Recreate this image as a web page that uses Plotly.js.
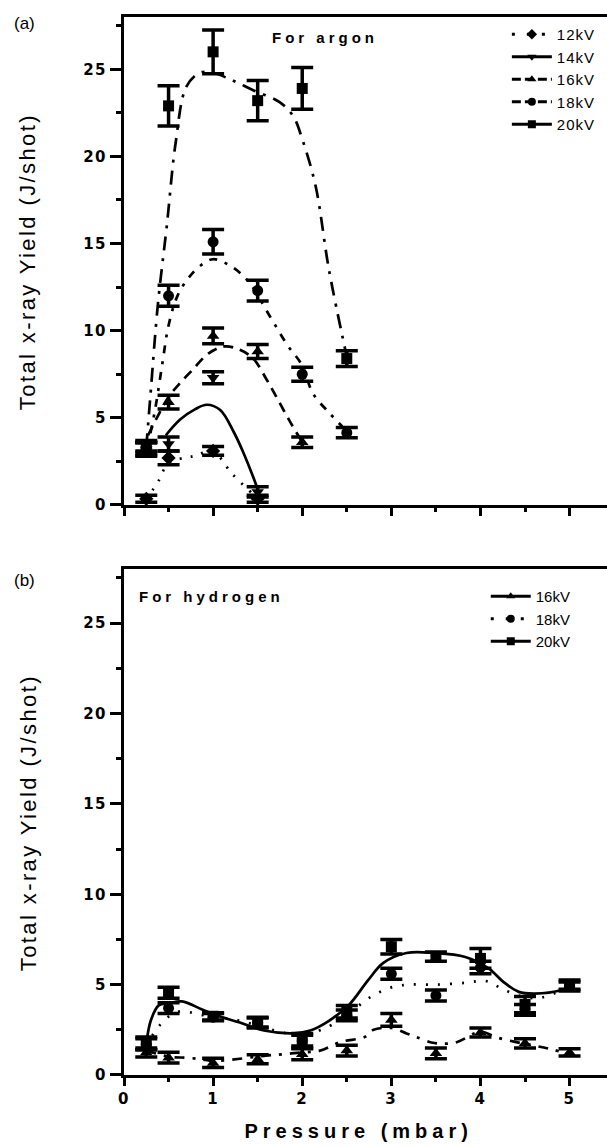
<!DOCTYPE html>
<html>
<head>
<meta charset="utf-8">
<script src="https://cdn.plot.ly/plotly-3.0.1.min.js"></script>
<style>
  html, body { margin: 0; padding: 0; background: #fff; }
  #chart { width: 607px; height: 1147px; }
</style>
</head>
<body>
<div id="chart"></div>
<script>
// ---------- Panel (a): argon ----------
const ar12_x = [0.25, 0.5, 1.0, 1.5];
const ar12_y = [0.35, 2.7, 3.1, 0.35];
const ar12_e = [0.2, 0.4, 0.25, 0.2];

const ar14_x = [0.25, 0.5, 1.0, 1.5];
const ar14_y = [3.2, 3.5, 7.3, 0.75];
const ar14_e = [0.35, 0.4, 0.35, 0.3];

const ar16_x = [0.25, 0.5, 1.0, 1.5, 2.0];
const ar16_y = [3.4, 5.9, 9.7, 8.8, 3.6];
const ar16_e = [0.3, 0.4, 0.45, 0.4, 0.3];

const ar18_x = [0.25, 0.5, 1.0, 1.5, 2.0, 2.5];
const ar18_y = [3.3, 12.0, 15.1, 12.3, 7.5, 4.15];
const ar18_e = [0.3, 0.6, 0.7, 0.6, 0.4, 0.3];

const ar20_x = [0.25, 0.5, 1.0, 1.5, 2.0, 2.5];
const ar20_y = [3.2, 22.9, 26.0, 23.2, 23.9, 8.4];
const ar20_e = [0.4, 1.15, 1.25, 1.15, 1.2, 0.45];

// fitted curves
const fitAr12_x = [0.25, 0.39, 0.5, 0.78, 1.0, 1.21, 1.45, 1.5];
const fitAr12_y = [0.3, 1.4, 2.4, 2.8, 3.05, 1.8, 0.6, 0.35];
const fitAr14_x = [0.47, 0.63, 0.8, 0.93, 1.08, 1.23, 1.34, 1.45, 1.5];
const fitAr14_y = [4.0, 4.9, 5.5, 5.75, 5.45, 4.2, 3.0, 1.6, 0.9];
const fitAr16_x = [0.27, 0.4, 0.5, 0.63, 0.76, 0.95, 1.13, 1.3, 1.45, 1.6, 1.71, 1.85, 2.0];
const fitAr16_y = [4.0, 5.3, 6.2, 7.0, 7.7, 8.7, 9.1, 8.9, 8.4, 7.2, 6.2, 4.9, 3.6];
const fitAr18_x = [0.27, 0.35, 0.43, 0.5, 0.6, 0.72, 0.85, 1.0, 1.2, 1.4, 1.64, 1.83, 2.0, 2.12, 2.3, 2.45];
const fitAr18_y = [3.5, 5.5, 8.1, 10.3, 12.0, 13.0, 13.7, 14.1, 13.7, 12.8, 10.8, 9.2, 8.0, 6.4, 5.3, 4.5];
const fitAr20_x = [0.25, 0.3, 0.38, 0.48, 0.58, 0.7, 0.85, 1.0, 1.2, 1.45, 1.75, 1.9, 2.0, 2.15, 2.3, 2.5];
const fitAr20_y = [3.3, 6.5, 11.5, 16.0, 20.8, 24.0, 24.8, 24.8, 24.4, 23.8, 23.1, 22.3, 21.0, 18.3, 13.5, 8.5];

// ---------- Panel (b): hydrogen ----------
const pH = [0.25, 0.5, 1.0, 1.5, 2.0, 2.5, 3.0, 3.5, 4.0, 4.5, 5.0];
const h16_y = [1.25, 0.96, 0.67, 0.87, 1.15, 1.35, 3.05, 1.2, 2.35, 1.75, 1.25];
const h16_e = [0.25, 0.3, 0.25, 0.25, 0.3, 0.3, 0.35, 0.3, 0.25, 0.25, 0.2];
const h18_y = [1.7, 3.7, 3.2, 2.9, 1.9, 3.3, 5.6, 4.4, 5.95, 3.6, 4.9];
const h18_e = [0.3, 0.3, 0.2, 0.25, 0.3, 0.3, 0.3, 0.3, 0.35, 0.3, 0.25];
const h20_y = [1.75, 4.55, 3.25, 2.9, 1.9, 3.5, 7.1, 6.55, 6.45, 3.9, 5.0];
const h20_e = [0.35, 0.3, 0.2, 0.3, 0.4, 0.35, 0.4, 0.25, 0.55, 0.45, 0.25];

const fitH16_x = [0.25, 0.52, 0.7, 0.87, 1.0, 1.3, 1.57, 1.78, 2.0, 2.2, 2.43, 2.7, 2.8, 3.0, 3.17, 3.28, 3.45, 3.57, 3.74, 4.0, 4.17, 4.39, 4.6, 4.78, 5.0];
const fitH16_y = [1.35, 1.0, 0.96, 0.87, 0.78, 0.9, 1.06, 1.15, 1.25, 1.35, 1.83, 2.1, 2.5, 2.6, 2.3, 2.1, 1.8, 1.73, 1.83, 2.4, 2.1, 1.83, 1.63, 1.44, 1.15];
const fitH18_x = [0.25, 0.4, 0.6, 0.9, 1.3, 1.7, 2.0, 2.3, 2.5, 2.76, 3.0, 3.2, 3.5, 3.83, 4.06, 4.25, 4.5, 4.7, 5.0];
const fitH18_y = [1.6, 2.75, 3.5, 3.3, 3.0, 2.45, 2.2, 2.7, 3.3, 4.3, 4.85, 5.0, 5.0, 5.1, 5.2, 4.75, 4.3, 4.3, 4.9];
const fitH20_x = [0.25, 0.3, 0.39, 0.5, 0.65, 0.87, 1.04, 1.3, 1.57, 1.91, 2.09, 2.3, 2.52, 2.74, 2.91, 3.17, 3.48, 3.83, 4.09, 4.26, 4.43, 4.61, 4.91, 5.0];
const fitH20_y = [1.7, 3.0, 3.85, 3.96, 4.07, 3.64, 3.3, 2.9, 2.46, 2.31, 2.46, 3.0, 3.85, 5.25, 6.2, 6.75, 6.75, 6.53, 5.9, 5.14, 4.6, 4.5, 4.7, 4.9];

const legendA = ['12kV', '14kV', '16kV', '18kV', '20kV'];
const legendB = ['16kV', '18kV', '20kV'];
const yTitle = 'Total x-ray Yield (J/shot)';
const xTitle = 'Pressure (mbar)';

// ---------- helpers ----------
const FONT = 'Liberation Sans, Arial, sans-serif';
const TICKFONT = 'DejaVu Sans, Liberation Sans, sans-serif';

function pts(x, y, e, sym, xa, ya) {
  return {type: 'scatter', mode: 'markers', x: x, y: y, xaxis: xa, yaxis: ya,
    error_y: {type: 'data', array: e, visible: true, color: '#000', thickness: 3.5, width: 11},
    marker: {symbol: sym, size: 11, color: '#000'}, showlegend: false, hoverinfo: 'skip'};
}
function fit(x, y, dash, xa, ya) {
  return {type: 'scatter', mode: 'lines', x: x, y: y, xaxis: xa, yaxis: ya,
    line: {color: '#000', width: 2.7, dash: dash, shape: 'spline', smoothing: 1},
    showlegend: false, hoverinfo: 'skip'};
}
function leg(name, sym, dash, lg, xa, ya) {
  return {type: 'scatter', mode: 'lines+markers', x: [null], y: [null], name: name,
    xaxis: xa, yaxis: ya, legend: lg,
    line: {color: '#000', width: 3, dash: dash}, marker: {symbol: sym, size: 8, color: '#000'},
    showlegend: true, hoverinfo: 'skip'};
}

const dA = {d12: '2px,9px', d14: 'solid', d16: '10px,7px', d18: '3px,8px,8px,8px', d20: '14px,8px,3px,8px'};
const dB = {d16: '10px,8px,3px,8px', d18: '2px,10px', d20: 'solid'};

const data = [
  fit(fitAr12_x, fitAr12_y, dA.d12, 'x', 'y'),
  fit(fitAr14_x, fitAr14_y, dA.d14, 'x', 'y'),
  fit(fitAr16_x, fitAr16_y, dA.d16, 'x', 'y'),
  fit(fitAr18_x, fitAr18_y, dA.d18, 'x', 'y'),
  fit(fitAr20_x, fitAr20_y, dA.d20, 'x', 'y'),
  pts(ar12_x, ar12_y, ar12_e, 'diamond', 'x', 'y'),
  pts(ar14_x, ar14_y, ar14_e, 'triangle-down', 'x', 'y'),
  pts(ar16_x, ar16_y, ar16_e, 'triangle-up', 'x', 'y'),
  pts(ar18_x, ar18_y, ar18_e, 'circle', 'x', 'y'),
  pts(ar20_x, ar20_y, ar20_e, 'square', 'x', 'y'),
  leg(legendA[0], 'diamond', '3px,12px', 'legend', 'x', 'y'),
  leg(legendA[1], 'triangle-down', 'solid', 'legend', 'x', 'y'),
  leg(legendA[2], 'triangle-up', '9px,4px', 'legend', 'x', 'y'),
  leg(legendA[3], 'circle', '9px,4px', 'legend', 'x', 'y'),
  leg(legendA[4], 'square', 'solid', 'legend', 'x', 'y'),

  fit(fitH16_x, fitH16_y, dB.d16, 'x2', 'y2'),
  fit(fitH18_x, fitH18_y, dB.d18, 'x2', 'y2'),
  fit(fitH20_x, fitH20_y, dB.d20, 'x2', 'y2'),
  pts(pH, h16_y, h16_e, 'triangle-up', 'x2', 'y2'),
  pts(pH, h18_y, h18_e, 'circle', 'x2', 'y2'),
  pts(pH, h20_y, h20_e, 'square', 'x2', 'y2'),
  leg(legendB[0], 'triangle-up', 'solid', 'legend2', 'x2', 'y2'),
  leg(legendB[1], 'circle', '3px,12px', 'legend2', 'x2', 'y2'),
  leg(legendB[2], 'square', 'solid', 'legend2', 'x2', 'y2')
];

const axBase = {showline: true, linewidth: 3, linecolor: '#000', ticks: 'outside', tickwidth: 3,
  tickcolor: '#000', showgrid: false, zeroline: false, fixedrange: true,
  tickfont: {family: TICKFONT, size: 15, color: '#000', weight: 'bold'}};
const xBase = Object.assign({}, axBase, {range: [0, 5.42], dtick: 1, tick0: 0, ticklen: 8, mirror: true,
  minor: {dtick: 0.5, ticklen: 4, tickwidth: 3, tickcolor: '#000', ticks: 'outside'}});
const yBase = Object.assign({}, axBase, {range: [0, 28], dtick: 5, tick0: 0, ticklen: 11,
  minor: {dtick: 2.5, ticklen: 5, tickwidth: 3, tickcolor: '#000', ticks: 'outside'}});

function ann(o) { return Object.assign({showarrow: false, xanchor: 'center', yanchor: 'middle'}, o); }

const layout = {
  width: 607, height: 1147,
  margin: {l: 124, r: 0, t: 17, b: 72},
  paper_bgcolor: '#fff', plot_bgcolor: '#fff',
  font: {family: FONT, color: '#000'},
  showlegend: true,
  xaxis: Object.assign({}, xBase, {domain: [0, 1], anchor: 'y', showticklabels: false}),
  yaxis: Object.assign({}, yBase, {domain: [0.5388, 1], anchor: 'x'}),
  xaxis2: Object.assign({}, xBase, {domain: [0, 1], anchor: 'y2', showticklabels: true}),
  yaxis2: Object.assign({}, yBase, {domain: [0, 0.4783], anchor: 'x2'}),
  legend: {x: 0.7927, y: 0.999, xanchor: 'left', yanchor: 'top', bgcolor: 'rgba(0,0,0,0)',
    font: {family: FONT, size: 15, color: '#000'}, tracegroupgap: 0, borderwidth: 0, itemwidth: 40},
  legend2: {x: 0.749, y: 0.4679, xanchor: 'left', yanchor: 'top', bgcolor: 'rgba(0,0,0,0)',
    font: {family: FONT, size: 15, color: '#000'}, tracegroupgap: 0, borderwidth: 0, itemwidth: 40},
  annotations: [
    ann({text: 'For argon', xref: 'x', yref: 'y', x: 2.25, y: 26.8,
      font: {family: FONT, size: 15, weight: 'bold'}}),
    ann({text: 'For hydrogen', xref: 'x2', yref: 'y2', x: 0.977, y: 26.5,
      font: {family: FONT, size: 15, weight: 'bold'}}),
    ann({text: '(a)', xref: 'paper', yref: 'paper', x: -0.205, y: 0.9943,
      font: {family: FONT, size: 17}}),
    ann({text: '(b)', xref: 'paper', yref: 'paper', x: -0.205, y: 0.467,
      font: {family: FONT, size: 17}}),
    ann({text: yTitle, xref: 'paper', yref: 'paper', x: -0.1988, y: 0.7694, textangle: -90,
      font: {family: FONT, size: 22}}),
    ann({text: yTitle, xref: 'paper', yref: 'paper', x: -0.1988, y: 0.2391, textangle: -90,
      font: {family: FONT, size: 22}}),
    ann({text: xTitle, xref: 'paper', yref: 'paper', x: 0.4845, y: -0.0529,
      font: {family: FONT, size: 20, weight: 'bold'}})
  ]
};

const spacing = {'For argon': '4px', 'For hydrogen': '4px', 'Pressure (mbar)': '5px',
  'Total x-ray Yield (J/shot)': '2.4px'};
function applySpacing(gd) {
  gd.querySelectorAll('text.annotation-text').forEach(function (t) {
    const s = spacing[t.textContent];
    if (s) t.style.letterSpacing = s;
  });
  gd.querySelectorAll('.xtick text, .x2tick text, .ytick text, .y2tick text').forEach(function (t) {
    t.style.letterSpacing = '1.5px';
  });
  gd.querySelectorAll('text.legendtext').forEach(function (t) { t.style.letterSpacing = '1px'; });
}

const gd = document.getElementById('chart');
Plotly.newPlot(gd, data, layout, {displayModeBar: false, staticPlot: true}).then(function () {
  applySpacing(gd);
  gd.on('plotly_afterplot', function () { applySpacing(gd); });
});
</script>
</body>
</html>
